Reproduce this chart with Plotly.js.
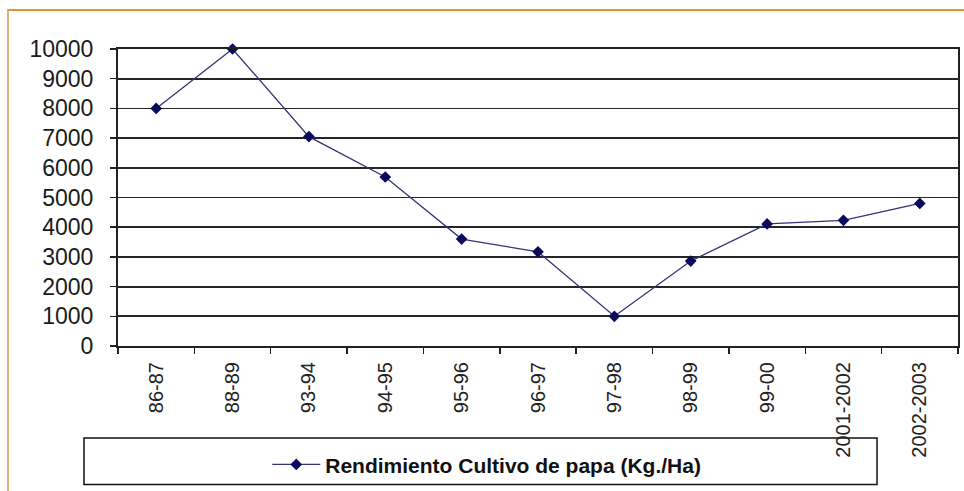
<!DOCTYPE html>
<html>
<head>
<meta charset="utf-8">
<script src="https://cdn.plot.ly/plotly-3.0.1.min.js"></script>
<style>
  html, body { margin: 0; padding: 0; background: #ffffff; }
  #frame { position: absolute; left: 7px; top: 9px; width: 980px; height: 500px;
           border-top: 2px solid #e0952e; border-left: 2px solid #d8b47e; }
  #chart { position: absolute; left: 0; top: 0; width: 964px; height: 491px; }
</style>
</head>
<body>
<div id="frame"></div>
<div id="chart"></div>
<script>
// Data
const categories = ["86-87", "88-89", "93-94", "94-95", "95-96", "96-97", "97-98", "98-99", "99-00", "2001-2002", "2002-2003"];
const rendimiento = [8000, 10000, 7050, 5690, 3600, 3170, 1000, 2860, 4110, 4230, 4800];
const yTicks = [0, 1000, 2000, 3000, 4000, 5000, 6000, 7000, 8000, 9000, 10000];
const yTickLabels = ["0", "1000", "2000", "3000", "4000", "5000", "6000", "7000", "8000", "9000", "10000"];
const seriesName = "Rendimiento Cultivo de papa (Kg./Ha)";

const trace = {
  x: categories,
  y: rendimiento,
  type: "scatter",
  mode: "lines+markers",
  name: seriesName,
  line: { color: "#33337a", width: 1.3 },
  marker: { symbol: "diamond", size: 9, color: "#0a0a5c" },
  cliponaxis: false
};

const layout = {
  width: 964,
  height: 491,
  margin: { l: 118, r: 6, t: 49, b: 142 },
  paper_bgcolor: "rgba(0,0,0,0)",
  plot_bgcolor: "#ffffff",
  font: { family: "Liberation Sans, Arial, sans-serif", color: "#1a1a1a" },
  showlegend: true,
  legend: {
    x: 0.439, y: -0.40, xanchor: "center", yanchor: "middle",
    orientation: "h",
    bgcolor: "rgba(0,0,0,0)",
    borderwidth: 0,
    itemwidth: 48,
    font: { size: 21, family: "Liberation Sans, Arial, sans-serif", color: "#111111", weight: "bold" }
  },
  xaxis: {
    type: "category",
    range: [-0.5, 10.5],
    tickangle: -90,
    tickson: "boundaries",
    ticks: "outside",
    ticklen: 6,
    tickcolor: "#222222",
    tickwidth: 1.5,
    ticklabelstandoff: 6,
    showline: true,
    linecolor: "#222222",
    linewidth: 2,
    mirror: true,
    showgrid: false,
    tickfont: { size: 20, color: "#222222" },
    fixedrange: true
  },
  yaxis: {
    range: [0, 10000],
    tickvals: yTicks,
    ticktext: yTickLabels,
    ticks: "outside",
    ticklen: 6,
    tickcolor: "#222222",
    tickwidth: 1.5,
    ticklabelstandoff: 12,
    showline: true,
    linecolor: "#222222",
    linewidth: 2,
    mirror: true,
    showgrid: true,
    gridcolor: "#262626",
    gridwidth: 1.8,
    zeroline: false,
    tickfont: { size: 23, color: "#1a1a1a" },
    fixedrange: true
  },
  shapes: [
    {
      type: "rect", xref: "paper", yref: "paper",
      x0: -0.0405, x1: 0.9036, y0: -0.31, y1: -0.4667,
      line: { color: "#111111", width: 1.5 },
      fillcolor: "rgba(0,0,0,0)",
      layer: "below"
    }
  ]
};

Plotly.newPlot("chart", [trace], layout, { displayModeBar: false, staticPlot: true });
</script>
</body>
</html>
